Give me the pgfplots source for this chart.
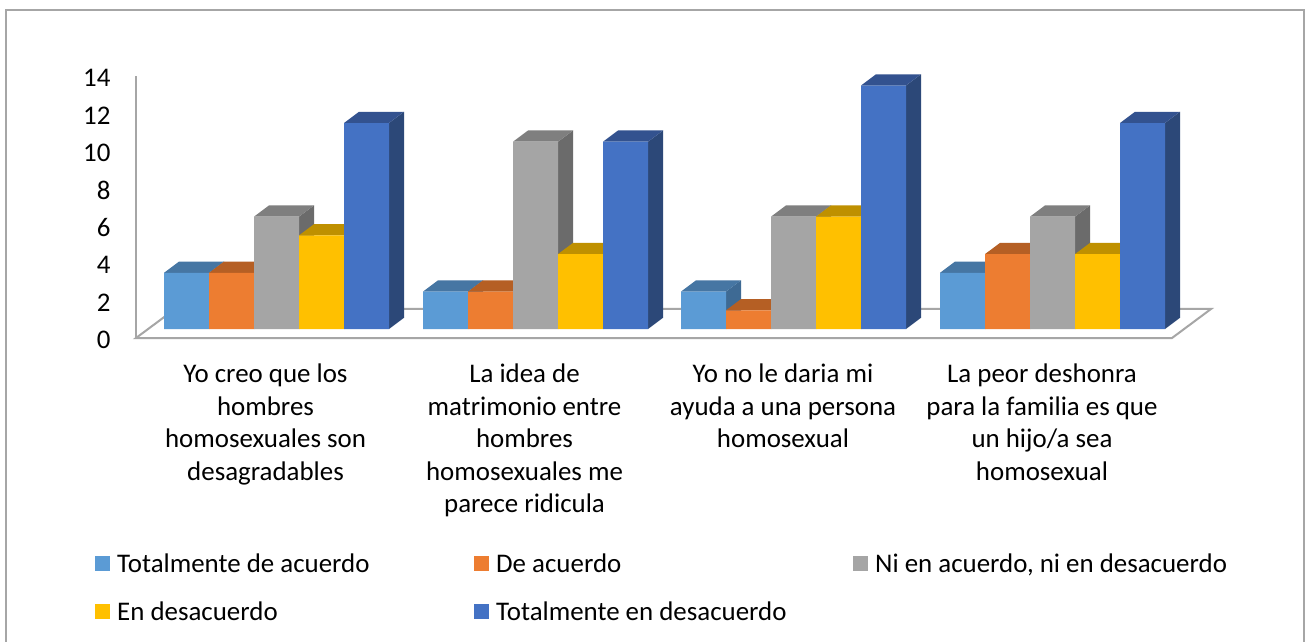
\documentclass[border=0pt]{standalone}
\usepackage{fontspec}
\setmainfont{Carlito}
\usepackage{pgfplots}
\pgfplotsset{compat=1.18}
\definecolor{c1}{HTML}{5B9BD5}\definecolor{c1t}{HTML}{4676A3}\definecolor{c1s}{HTML}{3E6A94}
\definecolor{c2}{HTML}{ED7D31}\definecolor{c2t}{HTML}{B55F24}\definecolor{c2s}{HTML}{A35520}
\definecolor{c3}{HTML}{A5A5A5}\definecolor{c3t}{HTML}{7F7F7F}\definecolor{c3s}{HTML}{6B6B6B}
\definecolor{c4}{HTML}{FFC000}\definecolor{c4t}{HTML}{BF9000}\definecolor{c4s}{HTML}{A67D00}
\definecolor{c5}{HTML}{4472C4}\definecolor{c5t}{HTML}{33528F}\definecolor{c5s}{HTML}{2C4878}
\definecolor{axgray}{HTML}{A6A6A6}
% side and top face of one bar: left edge x, value, colour prefix
\newcommand{\faces}[3]{%
  \pgfmathsetmacro{\xa}{#1+45}\pgfmathsetmacro{\xb}{#1+60}\pgfmathsetmacro{\xc}{#1+15}%
  \pgfmathsetmacro{\yb}{#2+0.6}%
  \edef\temp{\noexpand\addplot[forget plot,draw=none,fill=#3s] coordinates {(\xa,0) (\xb,0.6) (\xb,\yb) (\xa,#2)} -- cycle;
  \noexpand\addplot[forget plot,draw=none,fill=#3t] coordinates {(#1,#2) (\xa,#2) (\xb,\yb) (\xc,\yb)} -- cycle;}%
  \temp}
\begin{document}
\begin{tikzpicture}[x=1pt,y=1pt]
\path[fill=white] (0,0) rectangle (1310,642);
\draw[axgray,line width=2pt] (6,0) -- (6,632) -- (1304,632) -- (1304,0);
\begin{axis}[
  at={(136pt,303.6pt)},anchor=south west,
  scale only axis,width=1075pt,height=280.95pt,
  xmin=136,xmax=1211,ymin=-0.5,ymax=14.5,
  axis line style={draw=none},
  major tick length=0pt,
  clip=false,
  ytick={0,2,...,14},
  xtick={265.5,524.5,783,1042},
  xticklabels={Yo creo que los\\hombres\\homosexuales son\\desagradables,
    La idea de\\matrimonio entre\\hombres\\homosexuales me\\parece ridicula,
    Yo no le daria mi\\ayuda a una persona\\homosexual,
    La peor deshonra\\para la familia es que\\un hijo/a sea\\homosexual},
  xticklabel style={align=center,anchor=north,yshift=-22pt,
    font=\fontsize{26.9}{32.5}\selectfont},
  yticklabel style={anchor=east,xshift=-22pt,yshift=-11pt,
    font=\fontsize{26.9}{30}\selectfont},
  /pgf/number format/assume math mode=true,
  legend columns=3,
  legend cell align=left,
  legend style={draw=none,fill=none,at={(axis cs:92,-11.76)},anchor=north west,
    font=\fontsize{26.9}{30}\selectfont,row sep=24pt,
    /tikz/every even column/.append style={column sep=0pt}},
  legend image code/.code={\fill[#1] (0pt,-7.5pt) rectangle (15pt,7.5pt);},
]
% floor and wall axis
\addplot[forget plot,fill=white,draw=axgray,line width=2pt] coordinates {(136,-0.48) (1172,-0.48) (1211,1.07) (175,1.07)} -- cycle;
\addplot[forget plot,draw=axgray,line width=2pt] coordinates {(136,-0.48) (136,13.5)};
% series 1
\faces{164}{3}{c1}\faces{423}{2}{c1}\faces{681}{2}{c1}\faces{940}{3}{c1}
\addplot[ybar,bar width=45pt,bar shift=-90pt,draw=none,fill=c1] coordinates {(276.5,3) (535.5,2) (793.5,2) (1052.5,3)};
\addlegendentry{\makebox[360pt][l]{\hspace*{5pt}Totalmente de acuerdo}}
% series 2
\faces{209}{3}{c2}\faces{468}{2}{c2}\faces{726}{1}{c2}\faces{985}{4}{c2}
\addplot[ybar,bar width=45pt,bar shift=-45pt,draw=none,fill=c2] coordinates {(276.5,3) (535.5,2) (793.5,1) (1052.5,4)};
\addlegendentry{\makebox[360pt][l]{\hspace*{5pt}De acuerdo}}
% series 3
\faces{254}{6}{c3}\faces{513}{10}{c3}\faces{771}{6}{c3}\faces{1030}{6}{c3}
\addplot[ybar,bar width=45pt,bar shift=0pt,draw=none,fill=c3] coordinates {(276.5,6) (535.5,10) (793.5,6) (1052.5,6)};
\addlegendentry{\hspace*{5pt}Ni en acuerdo, ni en desacuerdo}
% series 4
\faces{299}{5}{c4}\faces{558}{4}{c4}\faces{816}{6}{c4}\faces{1075}{4}{c4}
\addplot[ybar,bar width=45pt,bar shift=45pt,draw=none,fill=c4] coordinates {(276.5,5) (535.5,4) (793.5,6) (1052.5,4)};
\addlegendentry{\makebox[360pt][l]{\hspace*{5pt}En desacuerdo}}
% series 5
\faces{344}{11}{c5}\faces{603}{10}{c5}\faces{861}{13}{c5}\faces{1120}{11}{c5}
\addplot[ybar,bar width=45pt,bar shift=90pt,draw=none,fill=c5] coordinates {(276.5,11) (535.5,10) (793.5,13) (1052.5,11)};
\addlegendentry{\makebox[360pt][l]{\hspace*{5pt}Totalmente en desacuerdo}}
\end{axis}
\end{tikzpicture}
\end{document}
